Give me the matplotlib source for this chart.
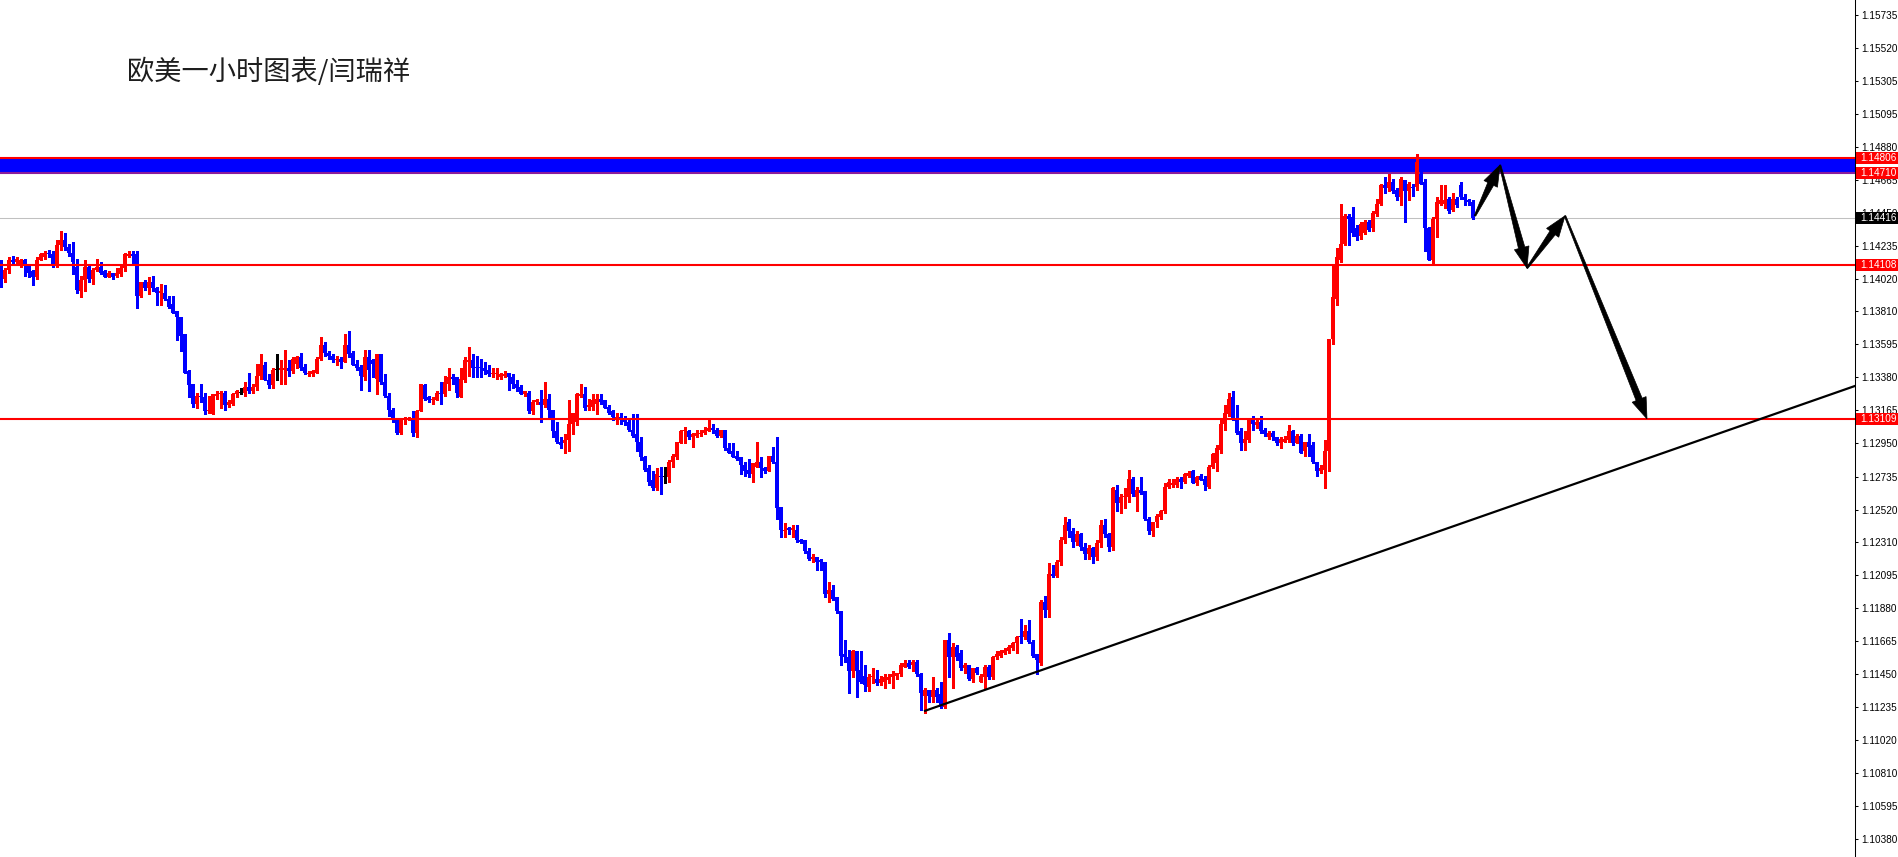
import matplotlib
matplotlib.use("Agg")
import matplotlib.pyplot as plt
from matplotlib.patches import Polygon, Rectangle
from matplotlib.transforms import IdentityTransform
import numpy as np

# ---------------- data (EUR/USD 1h candles) ----------------
opens = [
    1.1413, 1.1402, 1.1408, 1.1414, 1.1413, 1.1411, 1.1414, 1.1411, 1.1407, 1.1403,
    1.1414, 1.1416, 1.1419, 1.1418, 1.1411, 1.1424, 1.1427, 1.1423, 1.1419, 1.1410,
    1.1394, 1.1401, 1.1410, 1.1402, 1.1408, 1.1410, 1.1407, 1.1403, 1.1406, 1.1404,
    1.1405, 1.1409, 1.1417, 1.1418, 1.1418, 1.1391, 1.1400, 1.1396, 1.1400, 1.1396,
    1.1393, 1.1393, 1.1389, 1.1386, 1.1381, 1.1377, 1.1366, 1.1342, 1.1334, 1.1321,
    1.1326, 1.1325, 1.1316, 1.1314, 1.1326, 1.1327, 1.1328, 1.1320, 1.1321, 1.1327,
    1.1328, 1.1328, 1.1332, 1.1329, 1.1332, 1.1339, 1.1346, 1.1336, 1.1333, 1.1343,
    1.1343, 1.1343, 1.1344, 1.1342, 1.1347, 1.1351, 1.1345, 1.1340, 1.1340, 1.1341,
    1.1350, 1.1359, 1.1354, 1.1352, 1.1349, 1.1350, 1.1348, 1.1359, 1.1354, 1.1347,
    1.1345, 1.1338, 1.1351, 1.1349, 1.1337, 1.1353, 1.1335, 1.1326, 1.1317, 1.1311,
    1.1302, 1.1310, 1.1310, 1.1311, 1.1302, 1.1316, 1.1333, 1.1325, 1.1323, 1.1323,
    1.1328, 1.1327, 1.1334, 1.1338, 1.1338, 1.1325, 1.1336, 1.1348, 1.1349, 1.1345,
    1.1345, 1.1344, 1.1343, 1.1340, 1.1340, 1.1338, 1.1339, 1.1341, 1.1338, 1.1334,
    1.1332, 1.1327, 1.1328, 1.1316, 1.1322, 1.1322, 1.1320, 1.1324, 1.1317, 1.1303,
    1.1296, 1.1295, 1.1297, 1.1308, 1.1309, 1.1326, 1.1327, 1.1319, 1.1319, 1.1321,
    1.1324, 1.1323, 1.1319, 1.1316, 1.1311, 1.1312, 1.1310, 1.1309, 1.1304, 1.1301,
    1.1296, 1.1286, 1.1279, 1.1271, 1.1266, 1.1274, 1.1273, 1.1273, 1.1283, 1.1286,
    1.1295, 1.1303, 1.1303, 1.1299, 1.1300, 1.1301, 1.1302, 1.1303, 1.1305, 1.1304,
    1.1300, 1.1304, 1.1292, 1.1290, 1.1287, 1.1286, 1.1281, 1.1278, 1.1275, 1.1280,
    1.1283, 1.1279, 1.1277, 1.1287, 1.1283, 1.1254, 1.1238, 1.1240, 1.1239, 1.1239,
    1.1232, 1.1232, 1.1225, 1.1220, 1.1221, 1.1219, 1.1218, 1.1197, 1.1200, 1.1195,
    1.1186, 1.1158, 1.1156, 1.1147, 1.1160, 1.1148, 1.1144, 1.1137, 1.1143, 1.1142,
    1.1139, 1.1140, 1.1141, 1.1143, 1.1144, 1.1145, 1.1150, 1.1152, 1.1151, 1.1153,
    1.1145, 1.1131, 1.1135, 1.1130, 1.1135, 1.1132, 1.1124, 1.1167, 1.1156, 1.1163,
    1.1159, 1.1149, 1.1151, 1.1142, 1.1149, 1.1140, 1.1143, 1.1150, 1.1143, 1.1156,
    1.1157, 1.1159, 1.1160, 1.1162, 1.1165, 1.1170, 1.1169, 1.1173, 1.1166, 1.1158,
    1.1152, 1.1192, 1.1187, 1.1210, 1.1209, 1.1218, 1.1232, 1.1244, 1.1238, 1.1231,
    1.1236, 1.1228, 1.1223, 1.1227, 1.1221, 1.1230, 1.1242, 1.1236, 1.1228, 1.1265,
    1.1256, 1.1260, 1.1260, 1.1272, 1.1260, 1.1265, 1.1264, 1.1246, 1.1238, 1.1244,
    1.1247, 1.1251, 1.1267, 1.1268, 1.1268, 1.1272, 1.1270, 1.1274, 1.1277, 1.1269,
    1.1274, 1.1272, 1.1267, 1.1280, 1.1282, 1.1291, 1.1308, 1.1314, 1.1325, 1.1310,
    1.1303, 1.1295, 1.1297, 1.1310, 1.1307, 1.1309, 1.1304, 1.1299, 1.1302, 1.1299,
    1.1295, 1.1296, 1.1297, 1.1303, 1.1295, 1.1300, 1.1290, 1.1296, 1.1294, 1.1283,
    1.1277, 1.1278, 1.1290, 1.1363, 1.1389, 1.1414, 1.1425, 1.1443, 1.1442, 1.1435,
    1.1430, 1.1432, 1.1439, 1.1435, 1.1444, 1.1451, 1.1463, 1.1461, 1.1465, 1.1460,
    1.1455, 1.1466, 1.1459, 1.1462, 1.1462, 1.1470, 1.1465, 1.1435, 1.1414, 1.1441,
    1.1451, 1.1451, 1.1454, 1.1447, 1.1454, 1.1463, 1.1455, 1.1453, 1.1452,
]
highs = [
    1.1414, 1.1409, 1.1416, 1.1417, 1.1416, 1.1415, 1.1415, 1.1411, 1.1408, 1.1416,
    1.1419, 1.1420, 1.1421, 1.1420, 1.1427, 1.1433, 1.1432, 1.1425, 1.1426, 1.1415,
    1.1404, 1.1414, 1.1412, 1.1409, 1.1415, 1.1413, 1.1408, 1.1407, 1.1406, 1.1409,
    1.1411, 1.1419, 1.1420, 1.1420, 1.1420, 1.1400, 1.1401, 1.1403, 1.1404, 1.1397,
    1.1399, 1.1398, 1.1391, 1.1391, 1.1381, 1.1377, 1.1366, 1.1343, 1.1334, 1.1328,
    1.1334, 1.1328, 1.1326, 1.1327, 1.1329, 1.1329, 1.1329, 1.1323, 1.1328, 1.1330,
    1.1331, 1.1335, 1.1341, 1.1334, 1.1347, 1.1353, 1.1348, 1.1340, 1.1344, 1.1353,
    1.1349, 1.1356, 1.1349, 1.1351, 1.1352, 1.1354, 1.1347, 1.1342, 1.1343, 1.1351,
    1.1364, 1.1361, 1.1355, 1.1353, 1.1352, 1.1351, 1.1366, 1.1368, 1.1355, 1.1349,
    1.1346, 1.1356, 1.1356, 1.1350, 1.1353, 1.1353, 1.1340, 1.1328, 1.1318, 1.1311,
    1.1311, 1.1312, 1.1312, 1.1316, 1.1317, 1.1334, 1.1334, 1.1326, 1.1325, 1.1329,
    1.1335, 1.1339, 1.1344, 1.1340, 1.1338, 1.1344, 1.1351, 1.1358, 1.1353, 1.1352,
    1.1350, 1.1348, 1.1346, 1.1344, 1.1344, 1.1341, 1.1342, 1.1341, 1.1340, 1.1336,
    1.1333, 1.1329, 1.1329, 1.1323, 1.1324, 1.1330, 1.1335, 1.1327, 1.1317, 1.1309,
    1.1299, 1.1301, 1.1323, 1.1315, 1.1328, 1.1334, 1.1332, 1.1324, 1.1327, 1.1327,
    1.1327, 1.1323, 1.1320, 1.1317, 1.1315, 1.1315, 1.1313, 1.1310, 1.1314, 1.1314,
    1.1299, 1.1287, 1.1281, 1.1277, 1.1279, 1.1280, 1.1280, 1.1284, 1.1288, 1.1296,
    1.1304, 1.1306, 1.1304, 1.1302, 1.1304, 1.1304, 1.1306, 1.1310, 1.1308, 1.1305,
    1.1304, 1.1304, 1.1295, 1.1295, 1.1290, 1.1286, 1.1283, 1.1285, 1.1282, 1.1296,
    1.1286, 1.1280, 1.1287, 1.1293, 1.1299, 1.1254, 1.1243, 1.1241, 1.1242, 1.1242,
    1.1233, 1.1232, 1.1227, 1.1223, 1.1221, 1.1220, 1.1218, 1.1205, 1.1203, 1.1195,
    1.1186, 1.1167, 1.1161, 1.1161, 1.1160, 1.1160, 1.1151, 1.1145, 1.1149, 1.1148,
    1.1144, 1.1145, 1.1145, 1.1147, 1.1146, 1.1152, 1.1154, 1.1154, 1.1154, 1.1154,
    1.1146, 1.1136, 1.1135, 1.1143, 1.1136, 1.1140, 1.1167, 1.1172, 1.1165, 1.1164,
    1.1161, 1.1152, 1.1151, 1.1149, 1.1150, 1.1145, 1.1151, 1.1151, 1.1157, 1.1160,
    1.1161, 1.1162, 1.1164, 1.1166, 1.1170, 1.1181, 1.1177, 1.1180, 1.1167, 1.1158,
    1.1193, 1.1196, 1.1217, 1.1216, 1.1219, 1.1234, 1.1247, 1.1246, 1.1240, 1.1238,
    1.1237, 1.1230, 1.1229, 1.1228, 1.1232, 1.1245, 1.1246, 1.1237, 1.1267, 1.1268,
    1.1262, 1.1266, 1.1278, 1.1273, 1.1267, 1.1273, 1.1264, 1.1247, 1.1244, 1.1249,
    1.1252, 1.1269, 1.1272, 1.1272, 1.1273, 1.1273, 1.1276, 1.1277, 1.1278, 1.1274,
    1.1275, 1.1274, 1.1281, 1.1289, 1.1294, 1.1310, 1.1320, 1.1328, 1.1329, 1.1320,
    1.1305, 1.1303, 1.1311, 1.1313, 1.1310, 1.1313, 1.1305, 1.1303, 1.1303, 1.1299,
    1.1299, 1.1300, 1.1307, 1.1304, 1.1301, 1.1301, 1.1296, 1.1301, 1.1296, 1.1283,
    1.1281, 1.1297, 1.1363, 1.1411, 1.1422, 1.1451, 1.1444, 1.1444, 1.1449, 1.1437,
    1.1439, 1.1440, 1.1440, 1.1446, 1.1454, 1.1464, 1.1468, 1.1470, 1.1467, 1.1461,
    1.1468, 1.1466, 1.1465, 1.1464, 1.1483, 1.1472, 1.1467, 1.1436, 1.1442, 1.1455,
    1.1463, 1.1463, 1.1455, 1.1458, 1.1455, 1.1465, 1.1457, 1.1454, 1.1453,
]
lows = [
    1.1397, 1.1400, 1.1406, 1.1412, 1.1412, 1.1410, 1.1404, 1.1403, 1.1398, 1.1402,
    1.1414, 1.1415, 1.1416, 1.1410, 1.1410, 1.1421, 1.1421, 1.1417, 1.1405, 1.1393,
    1.1390, 1.1394, 1.1400, 1.1399, 1.1407, 1.1405, 1.1403, 1.1403, 1.1402, 1.1403,
    1.1404, 1.1407, 1.1416, 1.1412, 1.1383, 1.1390, 1.1395, 1.1392, 1.1394, 1.1385,
    1.1385, 1.1388, 1.1383, 1.1380, 1.1362, 1.1355, 1.1341, 1.1325, 1.1319, 1.1318,
    1.1322, 1.1314, 1.1315, 1.1314, 1.1324, 1.1318, 1.1317, 1.1319, 1.1320, 1.1325,
    1.1327, 1.1326, 1.1328, 1.1328, 1.1330, 1.1337, 1.1336, 1.1331, 1.1331, 1.1336,
    1.1334, 1.1334, 1.1339, 1.1341, 1.1344, 1.1343, 1.1340, 1.1339, 1.1339, 1.1341,
    1.1349, 1.1352, 1.1350, 1.1348, 1.1346, 1.1344, 1.1348, 1.1351, 1.1346, 1.1343,
    1.1330, 1.1336, 1.1329, 1.1338, 1.1327, 1.1334, 1.1325, 1.1313, 1.1309, 1.1301,
    1.1301, 1.1308, 1.1310, 1.1300, 1.1299, 1.1316, 1.1323, 1.1322, 1.1321, 1.1323,
    1.1321, 1.1326, 1.1330, 1.1334, 1.1325, 1.1325, 1.1335, 1.1339, 1.1338, 1.1338,
    1.1338, 1.1340, 1.1339, 1.1338, 1.1337, 1.1337, 1.1338, 1.1330, 1.1331, 1.1329,
    1.1327, 1.1326, 1.1315, 1.1314, 1.1321, 1.1309, 1.1319, 1.1312, 1.1299, 1.1295,
    1.1292, 1.1289, 1.1290, 1.1301, 1.1307, 1.1325, 1.1317, 1.1317, 1.1317, 1.1314,
    1.1321, 1.1318, 1.1314, 1.1310, 1.1308, 1.1308, 1.1307, 1.1303, 1.1299, 1.1290,
    1.1284, 1.1277, 1.1268, 1.1265, 1.1265, 1.1262, 1.1269, 1.1270, 1.1280, 1.1285,
    1.1295, 1.1295, 1.1298, 1.1293, 1.1299, 1.1300, 1.1301, 1.1303, 1.1302, 1.1299,
    1.1299, 1.1291, 1.1289, 1.1286, 1.1284, 1.1275, 1.1274, 1.1273, 1.1270, 1.1280,
    1.1273, 1.1276, 1.1277, 1.1282, 1.1246, 1.1234, 1.1234, 1.1236, 1.1234, 1.1231,
    1.1230, 1.1224, 1.1219, 1.1218, 1.1213, 1.1213, 1.1195, 1.1192, 1.1193, 1.1185,
    1.1151, 1.1153, 1.1133, 1.1143, 1.1130, 1.1139, 1.1134, 1.1134, 1.1139, 1.1138,
    1.1138, 1.1136, 1.1139, 1.1136, 1.1142, 1.1144, 1.1150, 1.1149, 1.1147, 1.1144,
    1.1122, 1.1120, 1.1127, 1.1127, 1.1127, 1.1123, 1.1123, 1.1143, 1.1136, 1.1154,
    1.1148, 1.1146, 1.1141, 1.1140, 1.1145, 1.1140, 1.1136, 1.1142, 1.1142, 1.1155,
    1.1156, 1.1158, 1.1159, 1.1161, 1.1159, 1.1165, 1.1168, 1.1165, 1.1156, 1.1145,
    1.1151, 1.1182, 1.1182, 1.1208, 1.1208, 1.1216, 1.1230, 1.1234, 1.1228, 1.1229,
    1.1226, 1.1220, 1.1220, 1.1217, 1.1219, 1.1228, 1.1234, 1.1225, 1.1226, 1.1251,
    1.1250, 1.1253, 1.1257, 1.1261, 1.1251, 1.1262, 1.1245, 1.1236, 1.1235, 1.1241,
    1.1246, 1.1250, 1.1266, 1.1267, 1.1267, 1.1266, 1.1269, 1.1273, 1.1269, 1.1268,
    1.1271, 1.1265, 1.1266, 1.1279, 1.1277, 1.1289, 1.1304, 1.1313, 1.1310, 1.1301,
    1.1291, 1.1291, 1.1296, 1.1304, 1.1305, 1.1302, 1.1300, 1.1298, 1.1297, 1.1294,
    1.1292, 1.1296, 1.1296, 1.1294, 1.1295, 1.1289, 1.1287, 1.1287, 1.1282, 1.1274,
    1.1276, 1.1266, 1.1277, 1.1360, 1.1385, 1.1413, 1.1424, 1.1424, 1.1430, 1.1427,
    1.1428, 1.1431, 1.1433, 1.1433, 1.1443, 1.1450, 1.1458, 1.1459, 1.1458, 1.1453,
    1.1450, 1.1439, 1.1453, 1.1456, 1.1460, 1.1464, 1.1420, 1.1414, 1.1412, 1.1429,
    1.1450, 1.1448, 1.1445, 1.1446, 1.1449, 1.1454, 1.1450, 1.1450, 1.1441,
]
closes = [
    1.1401, 1.1408, 1.1414, 1.1413, 1.1415, 1.1414, 1.1411, 1.1406, 1.1403, 1.1414,
    1.1418, 1.1419, 1.1418, 1.1411, 1.1424, 1.1427, 1.1423, 1.1419, 1.1413, 1.1395,
    1.1401, 1.1410, 1.1402, 1.1408, 1.1410, 1.1406, 1.1403, 1.1406, 1.1403, 1.1406,
    1.1409, 1.1418, 1.1418, 1.1417, 1.1391, 1.1400, 1.1396, 1.1400, 1.1396, 1.1393,
    1.1394, 1.1389, 1.1384, 1.1380, 1.1377, 1.1365, 1.1341, 1.1333, 1.1321, 1.1326,
    1.1325, 1.1316, 1.1317, 1.1327, 1.1327, 1.1328, 1.1320, 1.1322, 1.1327, 1.1329,
    1.1328, 1.1332, 1.1329, 1.1332, 1.1339, 1.1347, 1.1336, 1.1333, 1.1343, 1.1343,
    1.1344, 1.1344, 1.1342, 1.1350, 1.1351, 1.1344, 1.1341, 1.1341, 1.1342, 1.1350,
    1.1359, 1.1354, 1.1352, 1.1349, 1.1350, 1.1348, 1.1359, 1.1353, 1.1346, 1.1344,
    1.1339, 1.1351, 1.1343, 1.1347, 1.1353, 1.1335, 1.1326, 1.1317, 1.1310, 1.1302,
    1.1310, 1.1311, 1.1311, 1.1302, 1.1316, 1.1334, 1.1324, 1.1323, 1.1324, 1.1328,
    1.1327, 1.1335, 1.1338, 1.1337, 1.1328, 1.1337, 1.1349, 1.1349, 1.1344, 1.1344,
    1.1344, 1.1342, 1.1340, 1.1341, 1.1341, 1.1340, 1.1340, 1.1338, 1.1334, 1.1331,
    1.1327, 1.1329, 1.1316, 1.1322, 1.1323, 1.1320, 1.1324, 1.1317, 1.1303, 1.1296,
    1.1294, 1.1297, 1.1308, 1.1315, 1.1327, 1.1327, 1.1318, 1.1320, 1.1323, 1.1324,
    1.1322, 1.1318, 1.1315, 1.1312, 1.1312, 1.1311, 1.1309, 1.1304, 1.1300, 1.1296,
    1.1286, 1.1278, 1.1270, 1.1266, 1.1275, 1.1273, 1.1273, 1.1283, 1.1287, 1.1296,
    1.1303, 1.1304, 1.1299, 1.1301, 1.1302, 1.1302, 1.1304, 1.1305, 1.1304, 1.1300,
    1.1304, 1.1292, 1.1289, 1.1286, 1.1285, 1.1281, 1.1277, 1.1275, 1.1282, 1.1283,
    1.1279, 1.1277, 1.1287, 1.1283, 1.1253, 1.1239, 1.1239, 1.1239, 1.1240, 1.1232,
    1.1231, 1.1225, 1.1220, 1.1221, 1.1218, 1.1218, 1.1197, 1.1200, 1.1194, 1.1186,
    1.1157, 1.1156, 1.1147, 1.1160, 1.1147, 1.1140, 1.1138, 1.1143, 1.1144, 1.1139,
    1.1142, 1.1143, 1.1143, 1.1145, 1.1146, 1.1151, 1.1152, 1.1150, 1.1153, 1.1145,
    1.1133, 1.1135, 1.1131, 1.1135, 1.1130, 1.1124, 1.1167, 1.1156, 1.1163, 1.1156,
    1.1149, 1.1151, 1.1142, 1.1149, 1.1146, 1.1144, 1.1150, 1.1143, 1.1156, 1.1158,
    1.1160, 1.1161, 1.1163, 1.1165, 1.1169, 1.1169, 1.1173, 1.1166, 1.1157, 1.1154,
    1.1192, 1.1187, 1.1210, 1.1209, 1.1218, 1.1232, 1.1242, 1.1238, 1.1231, 1.1236,
    1.1228, 1.1223, 1.1227, 1.1221, 1.1230, 1.1242, 1.1236, 1.1228, 1.1266, 1.1256,
    1.1260, 1.1261, 1.1272, 1.1262, 1.1265, 1.1263, 1.1246, 1.1238, 1.1244, 1.1248,
    1.1251, 1.1267, 1.1270, 1.1269, 1.1272, 1.1270, 1.1275, 1.1276, 1.1269, 1.1273,
    1.1271, 1.1268, 1.1280, 1.1288, 1.1292, 1.1308, 1.1315, 1.1324, 1.1311, 1.1302,
    1.1295, 1.1298, 1.1310, 1.1308, 1.1309, 1.1303, 1.1301, 1.1302, 1.1299, 1.1295,
    1.1298, 1.1298, 1.1303, 1.1295, 1.1300, 1.1289, 1.1296, 1.1293, 1.1283, 1.1277,
    1.1279, 1.1290, 1.1363, 1.1390, 1.1416, 1.1425, 1.1443, 1.1441, 1.1432, 1.1429,
    1.1438, 1.1439, 1.1434, 1.1445, 1.1451, 1.1463, 1.1461, 1.1465, 1.1459, 1.1455,
    1.1467, 1.1459, 1.1464, 1.1461, 1.1478, 1.1464, 1.1435, 1.1414, 1.1441, 1.1452,
    1.1453, 1.1453, 1.1446, 1.1454, 1.1450, 1.1455, 1.1453, 1.1452, 1.14416,
]

band_low, band_high = 1.14710, 1.14806
level_lines = [1.14108, 1.13109]
current_price = 1.14416
tick_labels = ["1.15735", "1.15520", "1.15305", "1.15095", "1.14880", "1.14665",
               "1.14450", "1.14235", "1.14020", "1.13810", "1.13595", "1.13380",
               "1.13165", "1.12950", "1.12735", "1.12520", "1.12310", "1.12095",
               "1.11880", "1.11665", "1.11450", "1.11235", "1.11020", "1.10810",
               "1.10595", "1.10380"]
trend_x = [230.75, 463.6]
trend_y = [1.1121, 1.13325]
arrow_x = [368.5, 374.75, 381.5, 391.0, 411.5]
arrow_y = [1.1443, 1.1476, 1.1409, 1.1443, 1.1311]
title = "欧美一小时图表/闫瑞祥"

assert len(opens) == len(highs) == len(lows) == len(closes), (
    len(opens), len(highs), len(lows), len(closes))

# ---------------- figure ----------------
W, H, DPI = 1899, 857, 100
AX_RIGHT = 1855.5
LABEL_FS = 7.2
fig = plt.figure(figsize=(W / DPI, H / DPI), dpi=DPI, facecolor="white")
ax = fig.add_axes([0, 0, AX_RIGHT / W, 1])
ax.set_facecolor("white")
ax.set_xlim(-0.25, (AX_RIGHT - 1) / 4)
ax.set_ylim(1.10262, 1.15833)

o = np.array(opens); hi = np.array(highs); lo = np.array(lows); c = np.array(closes)
x = np.arange(len(c))
col = np.where(c > o, "#ff0000", np.where(c < o, "#0000ff", "#000000"))

# resistance band and current price line (behind candles)
ax.axhspan(band_low, band_high, facecolor="#0000ff", edgecolor="none", zorder=1)
ax.axhline(band_high, color="#ff0000", lw=1.5, zorder=1.5)
ax.axhline(band_low, color="#8a1c9c", lw=1.5, zorder=1.5)
ax.axhline(current_price, color="#c0c0c0", lw=0.75, zorder=1)

# candles
ax.vlines(x, lo, hi, colors=col, linewidth=0.75, zorder=3, antialiased=False)
body_bottom = np.minimum(o, c)
body_h = np.maximum(np.abs(c - o), 0.00007)
ax.bar(x, body_h, bottom=body_bottom, width=0.75, color=col, linewidth=0,
       zorder=4, antialiased=False)

# horizontal levels and trend line
for lv in level_lines:
    ax.axhline(lv, color="#ff0000", lw=1.5, zorder=5)
ax.plot(trend_x, trend_y, color="black", lw=1.6, zorder=6, solid_capstyle="butt")

# hand-drawn style arrows (tapered shaft + head), built in display space
pts = ax.transData.transform(np.column_stack([arrow_x, arrow_y]))
for k in range(len(pts) - 1):
    p, q = pts[k], pts[k + 1]
    d = q - p
    L = np.hypot(d[0], d[1])
    u = d / L
    nrm = np.array([-u[1], u[0]])
    hl, hw, w0, w1 = 21.0, 15.0, 1.5, 6.5
    b = q - u * hl
    poly = [p + nrm * w0 / 2, b + nrm * w1 / 2, b + nrm * hw / 2, q,
            b - nrm * hw / 2, b - nrm * w1 / 2, p - nrm * w0 / 2]
    ax.add_patch(Polygon(poly, closed=True, facecolor="black", edgecolor="black",
                         lw=0.5, transform=IdentityTransform(), zorder=7, clip_on=False))

# axes styling
for s in ["left", "top", "bottom"]:
    ax.spines[s].set_visible(False)
ax.spines["right"].set_color("black")
ax.spines["right"].set_linewidth(0.75)
ax.set_xticks([])
ax.yaxis.tick_right()
ax.set_yticks([float(t) for t in tick_labels], labels=tick_labels)
ax.tick_params(axis="y", direction="out", length=2.5, width=0.75, pad=1.5,
               labelsize=LABEL_FS, colors="black")
for lab in ax.get_yticklabels():
    lab.set_fontfamily("Liberation Sans")

# price tags on the right scale
def price_tag(price, face):
    yd = ax.transData.transform((0, price))[1]
    x0 = AX_RIGHT + 0.5
    fig.add_artist(Rectangle((x0, yd - 6), W - x0, 12, transform=IdentityTransform(),
                             facecolor=face, edgecolor="none", zorder=10))
    fig.text(1860.5 / W, yd / H, f"{price:.5f}", color="white", fontsize=LABEL_FS,
             family="Liberation Sans", va="center", ha="left", zorder=11)

price_tag(band_high, "#ff0000")
price_tag(band_low, "#ff0000")
price_tag(current_price, "#000000")
for lv in level_lines:
    price_tag(lv, "#ff0000")

fig.text(127 / W, 1 - 71.5 / H, title, fontsize=19.6,
         family=["Noto Sans CJK SC", "DejaVu Sans"], color="#1e1e1e",
         va="center", ha="left")

fig.savefig("out.png", dpi=DPI, facecolor="white")
